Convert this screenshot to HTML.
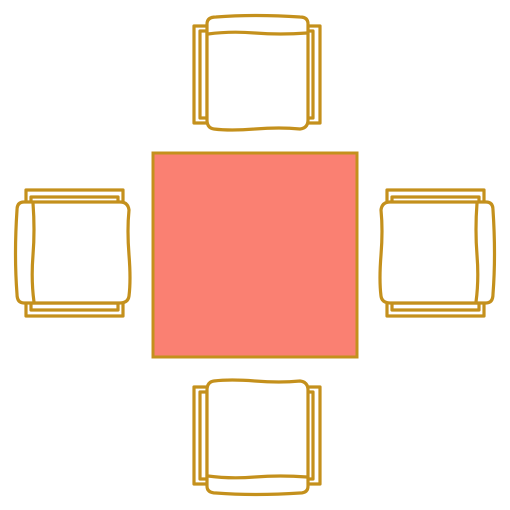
<!DOCTYPE html>
<html><head><style>html,body{margin:0;padding:0;background:#fff;}svg{display:block}</style></head>
<body>
<svg width="510" height="510" viewBox="0 0 510 510">
<defs>
<g id="chair" fill="none" stroke="#C4901C" stroke-width="3.2" stroke-linejoin="round">
  <rect x="194" y="26" width="14" height="97"/>
  <rect x="200" y="31" width="7" height="87"/>
  <rect x="305" y="26" width="15" height="97"/>
  <rect x="306" y="31" width="7" height="87"/>
  <path d="M216,17 Q255,14 300,17 Q308,17 308,24 L308,120 Q308,128 300,129 Q280,127 255,129 Q230,131 214,129 Q207,128 207,120 L207,24 Q207,17 216,17 Z" fill="#fff"/>
  <path d="M208,34 Q230,31 255,33 Q280,35 307,33"/>
</g>
</defs>
<g><use href="#chair"/></g>
<g><use href="#chair" transform="translate(0 510) scale(1 -1)"/></g>
<g><use href="#chair" transform="rotate(-90 255 255)"/></g>
<g><use href="#chair" transform="translate(510 0) scale(-1 1) rotate(-90 255 255)"/></g>
<rect x="153" y="153" width="204" height="204" fill="#FA8072" stroke="#C4901C" stroke-width="3"/>
</svg>
</body></html>
